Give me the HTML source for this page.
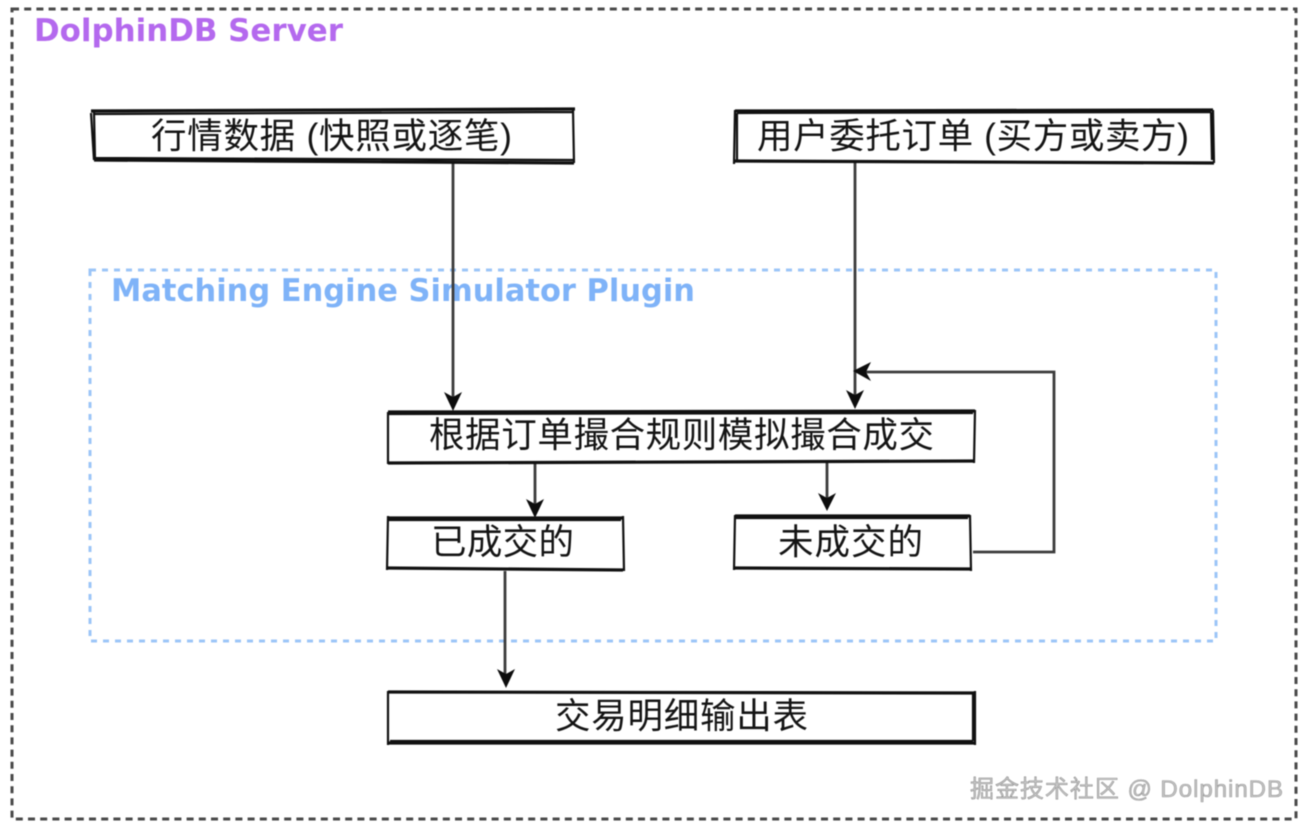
<!DOCTYPE html>
<html lang="zh">
<head>
<meta charset="utf-8">
<style>
html,body{margin:0;padding:0;background:#fff;width:1307px;height:827px;overflow:hidden}
svg{display:block;filter:blur(0.45px)}
.c{font-family:"Liberation Sans","Noto Sans CJK SC",sans-serif;font-size:35.5px;fill:#141414}
.t{font-family:"DejaVu Sans","Liberation Sans",sans-serif;font-weight:700;font-size:31px}
.b{fill:none;stroke:#111;stroke-width:2.2}
.o{fill:none;stroke:#111;stroke-width:3.2}
.a{fill:none;stroke:#3c3c3c;stroke-width:2.8}
.h{fill:#0c0c0c}
</style>
</head>
<body>
<svg width="1307" height="827" viewBox="0 0 1307 827" xmlns="http://www.w3.org/2000/svg">
<rect width="1307" height="827" fill="#fff"/>
<rect x="12" y="9" width="1284" height="810" fill="none" stroke="#4a4a4a" stroke-width="3" stroke-dasharray="7 5.2"/>
<rect x="90" y="270" width="1126" height="371" fill="none" stroke="#9cc5f7" stroke-width="3" stroke-dasharray="6 6"/>
<text class="t" x="34" y="41" fill="#b469ee" textLength="309" lengthAdjust="spacingAndGlyphs">DolphinDB Server</text>
<text class="t" x="111" y="301" fill="#7fb3f8" textLength="584" lengthAdjust="spacingAndGlyphs">Matching Engine Simulator Plugin</text>

<path class="a" d="M453 163V400"/>
<path class="h" d="M444 392L453 397L462 392L453 411Z"/>
<path class="a" d="M855 163V400"/>
<path class="h" d="M846 390L855 395L864 390L855 409Z"/>
<path class="a" d="M973 552H1054V372H862"/>
<path class="h" d="M853 371L871 362L866 372L871 381Z"/>
<path class="a" d="M535 463V505"/>
<path class="h" d="M526 499L535 504L544 499L535 518Z"/>
<path class="a" d="M827 463V500"/>
<path class="h" d="M818 493L827 498L836 493L827 511Z"/>
<path class="a" d="M505 571V678"/>
<path class="h" d="M497 669L506 674L515 669L506 688Z"/>

<path class="o" d="M91 111L575 109"/><path class="o" d="M94 160L574 163"/>
<path class="b" d="M91 113L94 160M573 110L574 163M93 114L572 112M95 158L573 160M94 112L95 158"/>
<text class="c" x="151" y="148" textLength="361" lengthAdjust="spacing">行情数据 (快照或逐笔)</text>

<path class="o" d="M735 111L1213 110"/><path class="o" d="M734 161L1214 163"/>
<path class="b" d="M735 110L734 164M1213 110L1214 163M737 113L1211 112M737 113L737 160M1211 112L1212 160"/>
<text class="c" x="757" y="148" textLength="432" lengthAdjust="spacing">用户委托订单 (买方或卖方)</text>

<path class="o" d="M388 412L975 411"/><path class="o" d="M388 463L975 461"/>
<path class="b" d="M388 412L388 464M975 410L974 463M389 414L973 413"/>
<text class="c" x="429" y="447" textLength="505" lengthAdjust="spacing">根据订单撮合规则模拟撮合成交</text>

<path class="o" d="M388 518L624 518"/><path class="o" d="M387 568L623 570"/>
<path class="b" d="M388 516L387 570M623 516L624 571M389 520L621 520"/>
<text class="c" x="431" y="554" textLength="143" lengthAdjust="spacing">已成交的</text>

<path class="o" d="M735 516L970 516"/><path class="o" d="M734 568L970 569"/>
<path class="b" d="M735 515L734 570M970 515L971 571M736 518L968 518"/>
<text class="c" x="778" y="554" textLength="145" lengthAdjust="spacing">未成交的</text>

<path class="o" d="M388 692L975 693"/><path class="o" d="M388 743L975 743"/>
<path class="b" d="M388 691L388 745M975 691L975 745M973 694L973 741M390 741L973 741"/>
<text class="c" x="555" y="728" textLength="253" lengthAdjust="spacing">交易明细输出表</text>

<text x="970" y="797" font-family="'Liberation Sans','Noto Sans CJK SC',sans-serif" font-size="24" fill="#c4c4c4" stroke="#6e6e6e" stroke-width="0.35" textLength="313" lengthAdjust="spacing">掘金技术社区 @ DolphinDB</text>
</svg>
</body>
</html>
